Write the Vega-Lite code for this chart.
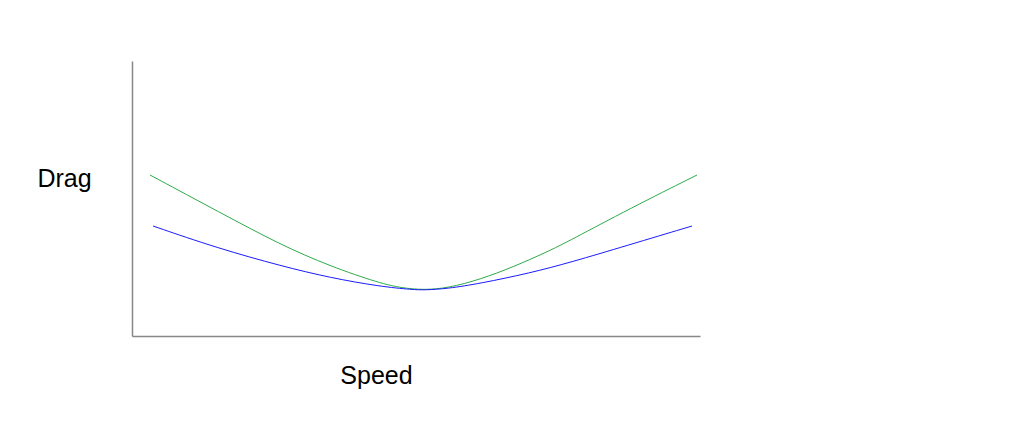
{
  "$schema": "https://vega.github.io/schema/vega-lite/v6.json",
  "width": 568,
  "height": 275,
  "autosize": {"type": "none"},
  "padding": {"left": 132, "top": 61, "right": 323, "bottom": 106},
  "background": "white",
  "config": {"view": {"stroke": null}},
  "data": {
    "values": [
      {"series": "green", "speed": 18, "drag": 161},
      {"series": "green", "speed": 88, "drag": 123.5},
      {"series": "green", "speed": 148, "drag": 91.5},
      {"series": "green", "speed": 198, "drag": 69.8},
      {"series": "green", "speed": 248, "drag": 52.7},
      {"series": "green", "speed": 270, "drag": 48},
      {"series": "green", "speed": 292, "drag": 46},
      {"series": "green", "speed": 316, "drag": 48},
      {"series": "green", "speed": 348, "drag": 56.5},
      {"series": "green", "speed": 381, "drag": 69},
      {"series": "green", "speed": 415, "drag": 84},
      {"series": "green", "speed": 438, "drag": 95.5},
      {"series": "green", "speed": 498, "drag": 127.5},
      {"series": "green", "speed": 565, "drag": 161},
      {"series": "blue", "speed": 21, "drag": 110},
      {"series": "blue", "speed": 85, "drag": 88},
      {"series": "blue", "speed": 150, "drag": 69.8},
      {"series": "blue", "speed": 198, "drag": 58.3},
      {"series": "blue", "speed": 248, "drag": 49.5},
      {"series": "blue", "speed": 281, "drag": 46.3},
      {"series": "blue", "speed": 293, "drag": 46},
      {"series": "blue", "speed": 315, "drag": 47.3},
      {"series": "blue", "speed": 348, "drag": 52.5},
      {"series": "blue", "speed": 398, "drag": 63},
      {"series": "blue", "speed": 438, "drag": 73.5},
      {"series": "blue", "speed": 495, "drag": 90.5},
      {"series": "blue", "speed": 560, "drag": 110}
    ]
  },
  "mark": {"type": "line", "interpolate": "basis", "strokeWidth": 1, "clip": false},
  "encoding": {
    "x": {
      "field": "speed", "type": "quantitative",
      "scale": {"domain": [0, 568], "nice": false, "zero": false},
      "axis": {
        "title": "Speed", "grid": false, "ticks": false, "labels": false,
        "domainColor": "#888888", "domainWidth": 1.5,
        "titleFont": "Liberation Sans", "titleFontSize": 25, "titleFontWeight": "normal",
        "titleColor": "black", "titleAlign": "center", "titleBaseline": "alphabetic",
        "titleX": 244, "titleY": 47
      }
    },
    "y": {
      "field": "drag", "type": "quantitative",
      "scale": {"domain": [0, 275], "nice": false, "zero": false},
      "axis": {
        "title": "Drag", "grid": false, "ticks": false, "labels": false,
        "domainColor": "#888888", "domainWidth": 1.5,
        "titleFont": "Liberation Sans", "titleFontSize": 25, "titleFontWeight": "normal",
        "titleColor": "black", "titleAngle": 0, "titleAlign": "center", "titleBaseline": "alphabetic",
        "titleX": -68, "titleY": 125
      }
    },
    "color": {
      "field": "series", "type": "nominal",
      "scale": {"domain": ["green", "blue"], "range": ["#2eaa4a", "#1a1aff"]},
      "legend": null
    }
  }
}
